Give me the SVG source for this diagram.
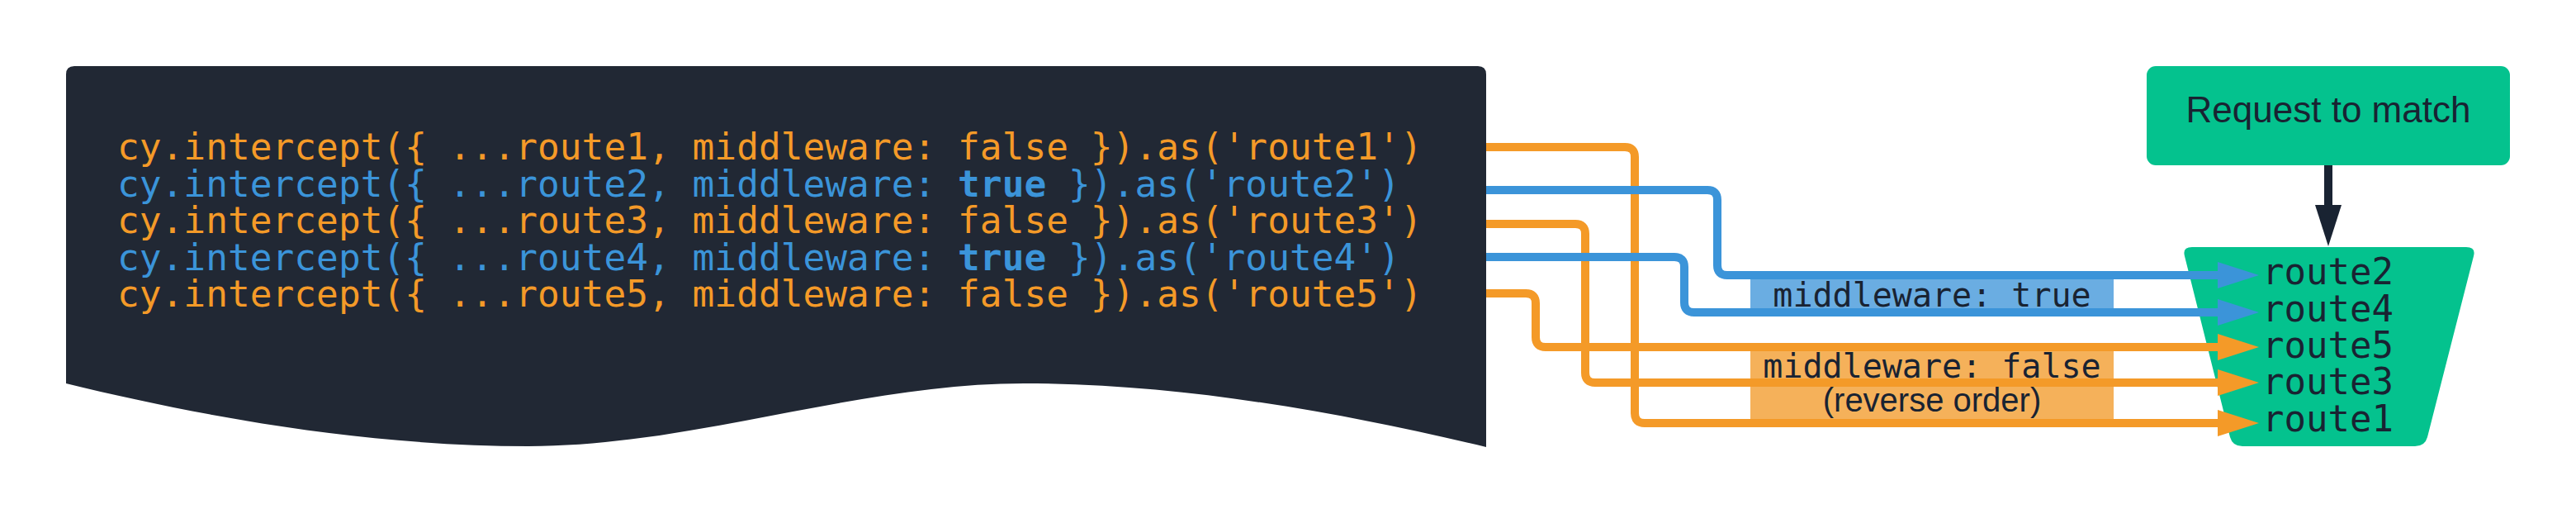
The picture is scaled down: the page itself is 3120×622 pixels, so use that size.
<svg xmlns="http://www.w3.org/2000/svg" width="3120" height="622" viewBox="0 0 3120 622">
<style>
.mono{font-family:"DejaVu Sans Mono","Liberation Mono",monospace;white-space:pre}
.sans{font-family:"Liberation Sans",Arial,sans-serif}
.code{font-size:44.5px}
.or{fill:#F49A28}
.bl{fill:#3B94D9}
.dk{fill:#192332}
.green{fill:#04C28E}
.edge{fill:none;stroke-width:10;stroke-linejoin:round}
.eo{stroke:#F49A28}
.eb{stroke:#3B94D9}
.ed{stroke:#192332}
</style>
<defs>
<marker id="ao" markerUnits="userSpaceOnUse" markerWidth="50" markerHeight="32" viewBox="0 0 50 32" refX="1" refY="16" orient="auto"><path d="M0,0 L50,16 L0,32 Z" fill="#F49A28"/></marker>
<marker id="ab" markerUnits="userSpaceOnUse" markerWidth="50" markerHeight="32" viewBox="0 0 50 32" refX="1" refY="16" orient="auto"><path d="M0,0 L50,16 L0,32 Z" fill="#3B94D9"/></marker>
<marker id="ad" markerUnits="userSpaceOnUse" markerWidth="50" markerHeight="32" viewBox="0 0 50 32" refX="1" refY="16" orient="auto"><path d="M0,0 L50,16 L0,32 Z" fill="#192332"/></marker>
</defs>
<rect width="3120" height="622" fill="#FFFFFF"/>

<g id="code">
<path d="M80,90 Q80,80 90,80 H1790 Q1800,80 1800,90 V541 C1640,503 1440,464 1240,464 C1040,464 840,540 640,540 C440,540 240,503 80,464 Z" fill="#212834"/>
<text class="mono code or" x="142" y="193">cy.intercept({ ...route1, middleware: false }).as('route1')</text>
<text class="mono code bl" x="142" y="238">cy.intercept({ ...route2, middleware: <tspan font-weight="bold">true</tspan> }).as('route2')</text>
<text class="mono code or" x="142" y="282">cy.intercept({ ...route3, middleware: false }).as('route3')</text>
<text class="mono code bl" x="142" y="327">cy.intercept({ ...route4, middleware: <tspan font-weight="bold">true</tspan> }).as('route4')</text>
<text class="mono code or" x="142" y="371">cy.intercept({ ...route5, middleware: false }).as('route5')</text>
</g>

<g id="request">
<rect x="2600" y="80" width="440" height="120" rx="11" class="green"/>
<text class="sans dk" x="2820" y="148" font-size="44" text-anchor="middle">Request to match</text>
</g>

<g id="routes">
<path d="M2655,299 H2987 Q2999,299 2996,310 L2940,529 Q2937,540 2925,540 H2716 Q2704,540 2701,529 L2646,310 Q2643,299 2655,299 Z" class="green"/>
<g class="mono dk" font-size="44">
<text x="2740" y="344">route2</text>
<text x="2740" y="389">route4</text>
<text x="2740" y="433">route5</text>
<text x="2740" y="477">route3</text>
<text x="2740" y="522">route1</text>
</g>
</g>

<g id="label-true">
<rect x="2120" y="338" width="440" height="35" fill="#6AADE2"/>
<text class="mono dk" x="2340" y="371" font-size="40" text-anchor="middle">middleware: true</text>
</g>

<g id="label-false">
<rect x="2120" y="425" width="440" height="82" fill="#F5B15A"/>
<text class="mono dk" x="2340" y="457" font-size="40" text-anchor="middle">middleware: false</text>
<text class="sans dk" x="2340" y="498" font-size="40" text-anchor="middle">(reverse order)</text>
</g>

<g id="connectors">
<path class="edge eo" d="M1800,178 H1968 Q1980,178 1980,190 V500 Q1980,512 1992,512 H2687" marker-end="url(#ao)"/>
<path class="edge eb" d="M1800,230 H2068 Q2080,230 2080,242 V321 Q2080,333 2092,333 H2687" marker-end="url(#ab)"/>
<path class="edge eo" d="M1800,271 H1908 Q1920,271 1920,283 V451 Q1920,463 1932,463 H2687" marker-end="url(#ao)"/>
<path class="edge eb" d="M1800,311 H2028 Q2040,311 2040,323 V366 Q2040,378 2052,378 H2687" marker-end="url(#ab)"/>
<path class="edge eo" d="M1800,355 H1848 Q1860,355 1860,367 V408 Q1860,420 1872,420 H2687" marker-end="url(#ao)"/>
<path class="edge ed" d="M2820,200 V249" marker-end="url(#ad)"/>
</g>
</svg>
